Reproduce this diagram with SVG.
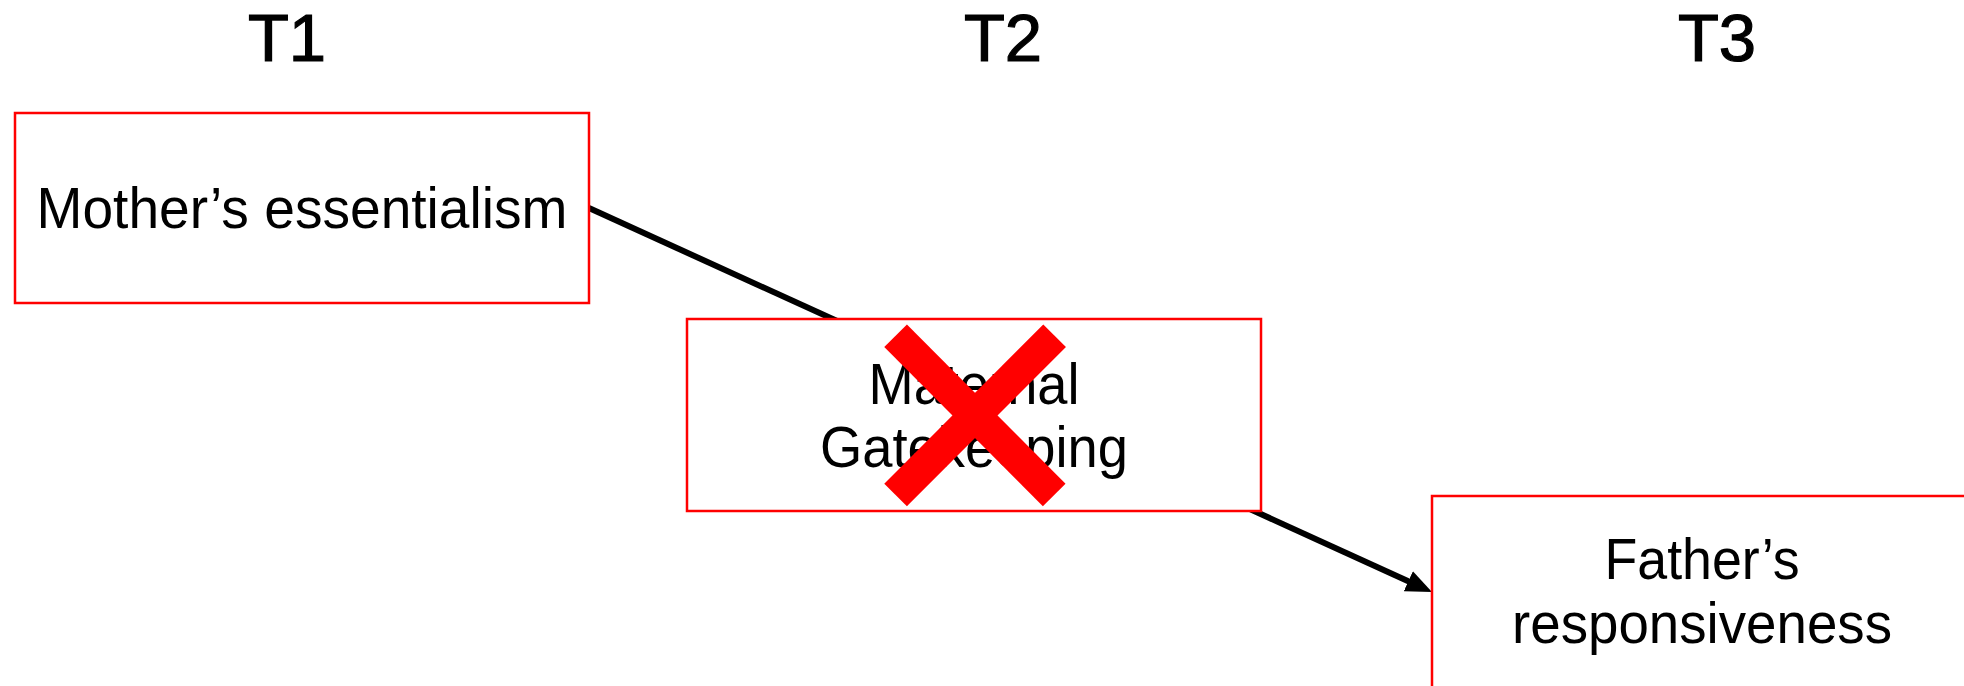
<svg xmlns="http://www.w3.org/2000/svg" width="1964" height="686" viewBox="0 0 1964 686">
  <style>
    .box { fill: #ffffff; stroke: #ff0000; stroke-width: 2.5; }
    .lbl { font-family: "Liberation Sans", Arial, sans-serif; font-size: 57px; fill: #000000; text-anchor: middle; }
    .time { font-family: "Liberation Sans", Arial, sans-serif; font-size: 67px; fill: #000000; stroke: #000000; stroke-width: 1.2; text-anchor: middle; }
    .edge { stroke: #000000; stroke-width: 6; fill: none; }
    .cross { stroke: #ff0000; stroke-width: 32; stroke-linecap: butt; }
  </style>
  <defs>
    <marker id="arrow" markerUnits="userSpaceOnUse" markerWidth="26" markerHeight="22" refX="6" refY="11" orient="auto">
      <path d="M0,0 L26,11 L0,22 z" fill="#000000"/>
    </marker>
  </defs>
  <rect width="1964" height="686" fill="#ffffff"/>

  <g id="time-labels">
    <text class="time" x="287" y="61">T1</text>
    <text class="time" x="1003" y="61">T2</text>
    <text class="time" x="1717" y="61">T3</text>
  </g>

  <g id="connectors">
    <line class="edge" x1="589" y1="208" x2="1413.8" y2="583.7" marker-end="url(#arrow)"/>
  </g>

  <g id="node-mother">
    <rect class="box" x="15" y="113" width="574" height="190"/>
    <text class="lbl" x="302" y="228" textLength="531" lengthAdjust="spacingAndGlyphs">Mother’s essentialism</text>
  </g>

  <g id="node-gatekeeping">
    <rect class="box" x="687" y="319" width="574" height="192"/>
    <text class="lbl" x="974" y="404" textLength="211" lengthAdjust="spacingAndGlyphs">Maternal</text>
    <text class="lbl" x="974" y="467" textLength="308" lengthAdjust="spacingAndGlyphs">Gatekeeping</text>
    <g id="cross-mark">
      <line class="cross" x1="895.6" y1="335.8" x2="1054.2" y2="495"/>
      <line class="cross" x1="1054.6" y1="335.8" x2="895.6" y2="495"/>
    </g>
  </g>

  <g id="node-father">
    <rect class="box" x="1432" y="496" width="600" height="220"/>
    <text class="lbl" x="1702" y="579" textLength="195" lengthAdjust="spacingAndGlyphs">Father’s</text>
    <text class="lbl" x="1702" y="643" textLength="380" lengthAdjust="spacingAndGlyphs">responsiveness</text>
  </g>
</svg>
